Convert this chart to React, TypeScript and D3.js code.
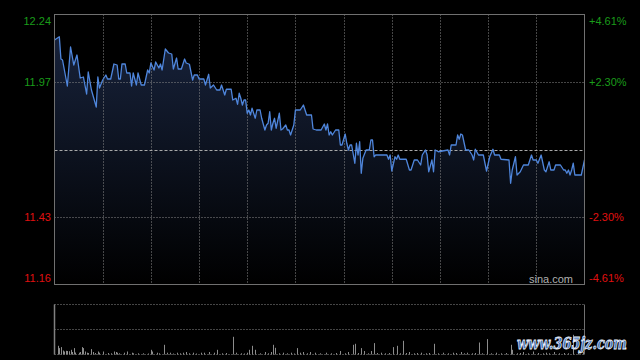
import React from "react";
import * as d3 from "d3";

// minute index (0..330, HK session) and price
const minutes = [0,3,4,5,8,10,12,14,16,18,20,21,23,26,27,28,30,32,33,35,37,39,40,41,42,44,45,47,48,49,51,52,54,56,58,59,60,62,63,65,66,67,69,71,73,74,76,77,79,81,82,84,86,87,89,90,93,94,96,97,99,101,103,104,106,107,110,111,113,114,115,116,117,118,119,120,121,122,123,124,125,126,128,129,131,132,133,134,135,136,137,138,140,141,142,144,145,146,147,149,150,153,155,156,157,160,161,163,166,168,169,170,171,172,173,175,177,178,179,181,182,183,184,185,187,188,189,190,191,192,194,196,197,198,199,200,207,208,209,210,212,213,214,215,219,221,222,224,226,228,229,231,232,233,235,236,237,239,245,246,247,250,251,252,253,254,256,258,260,261,262,264,267,269,271,273,274,277,278,283,284,285,287,288,290,292,295,297,298,300,301,303,305,306,308,309,311,312,315,317,318,319,320,321,322,323,324,325,328,330];
const prices = [12.138,12.151,12.062,12.058,11.954,12.11,12.038,12.078,11.986,11.99,11.922,12.01,11.938,11.87,11.99,11.946,11.978,11.998,11.982,11.982,12.042,12.038,11.982,11.982,12.042,12.042,12.006,12.006,11.954,12.006,11.958,12.006,11.958,11.958,12.018,12.006,12.046,12.018,12.05,12.026,12.042,12.018,12.102,12.086,12.082,12.022,12.066,12.022,12.022,12.062,12.046,12.041,11.978,11.998,11.998,11.982,11.982,11.958,12.001,11.946,11.958,11.938,11.938,11.958,11.918,11.941,11.941,11.898,11.905,11.881,11.925,11.905,11.878,11.898,11.898,11.845,11.858,11.838,11.865,11.845,11.825,11.858,11.858,11.825,11.778,11.798,11.805,11.851,11.778,11.805,11.825,11.785,11.845,11.778,11.782,11.798,11.778,11.778,11.758,11.798,11.858,11.858,11.878,11.858,11.838,11.838,11.782,11.778,11.778,11.802,11.778,11.802,11.758,11.771,11.758,11.778,11.778,11.718,11.718,11.762,11.725,11.698,11.718,11.718,11.645,11.725,11.678,11.731,11.605,11.665,11.698,11.698,11.738,11.738,11.671,11.678,11.678,11.661,11.678,11.614,11.671,11.661,11.678,11.661,11.661,11.618,11.618,11.658,11.658,11.638,11.678,11.698,11.678,11.611,11.658,11.611,11.698,11.691,11.698,11.678,11.718,11.718,11.758,11.741,11.762,11.758,11.698,11.698,11.678,11.658,11.701,11.678,11.678,11.614,11.671,11.701,11.678,11.678,11.661,11.658,11.565,11.618,11.671,11.598,11.611,11.638,11.638,11.678,11.658,11.658,11.645,11.678,11.618,11.611,11.651,11.618,11.618,11.638,11.638,11.618,11.618,11.605,11.618,11.598,11.618,11.645,11.598,11.598,11.598,11.658];

// volume bars: minute index and volume (arbitrary units)
const volMinutes = [2,3,4,5,6,7,8,9,10,11,12,13,15,16,17,18,19,20,21,23,24,25,27,28,30,33,35,37,38,39,40,43,45,48,49,52,55,58,60,61,64,65,68,70,72,74,76,78,80,82,84,86,88,91,93,96,99,101,104,107,111,113,116,118,120,121,123,125,128,131,133,135,136,137,140,142,145,147,149,151,153,155,157,159,162,165,169,172,175,178,181,183,186,187,189,191,193,195,197,199,201,203,206,208,211,213,215,217,219,221,224,226,228,231,233,236,239,242,245,248,250,253,255,257,260,262,264,266,269,272,275,278,281,284,285,288,290,292,295,298,301,304,306,308,311,314,317,320,323,326,329];
const volumes = [87,64,74,40,30,37,35,33,47,25,64,20,18,25,74,64,30,18,15,54,25,15,30,18,30,15,12,30,25,18,12,18,30,18,12,12,12,10,47,30,18,12,97,18,18,10,18,12,18,25,12,18,10,18,18,25,18,47,12,15,177,18,12,10,18,47,87,47,12,25,12,25,97,67,12,18,12,18,10,64,18,25,12,25,18,12,18,12,15,35,12,25,97,107,15,64,35,12,35,114,15,18,12,15,74,87,12,137,15,25,12,15,18,12,15,107,12,18,12,18,15,25,12,18,12,15,120,12,154,12,18,12,15,97,47,12,15,25,12,30,15,12,18,12,25,12,15,12,197,15,25];

const leftLabels = ["12.24", "11.97", "11.43", "11.16"];
const leftValues = [12.24, 11.97, 11.43, 11.16];
const rightLabels = ["+4.61%", "+2.30%", "-2.30%", "-4.61%"];
const prevClose = 11.70;

export default function App() {
  const L = 54.5, R = 584.5, T = 14.5, B = 284.5;
  const VT = 304.5, VB = 354.5;
  const x = d3.scaleLinear().domain([0, 330]).range([L, R]);
  const y = d3.scaleLinear().domain([11.16, 12.24]).range([B, T]);
  const yv = d3.scaleLinear().domain([0, 500]).range([VB, VT]);

  const pts = minutes.map((m, i) => [m, prices[i]] as [number, number]);
  const line = d3.line<[number, number]>().x(d => x(d[0])).y(d => y(d[1]));
  const area = d3.area<[number, number]>().x(d => x(d[0])).y0(B).y1(d => y(d[1]));

  const vlines = d3.range(1, 11).map(i => x(i * 30));
  const green = "#1a9c1a";
  const red = "#e01010";
  const labelY = (v: number) => {
    const c = Math.max(T + 6, Math.min(B - 6.5, y(v)));
    return c + 4;
  };

  return (
    <svg width={640} height={360} style={{ position: "fixed", left: 0, top: 0, background: "#000" }}
      fontFamily="'Liberation Sans', Arial, sans-serif">
      <rect x={0} y={0} width={640} height={360} fill="#000" />
      <defs>
        <linearGradient id="fillg" gradientUnits="userSpaceOnUse" x1={0} y1={30} x2={0} y2={B}>
          <stop offset="0" stopColor="#18233c" />
          <stop offset="1" stopColor="#000000" />
        </linearGradient>
      </defs>
      <path d={area(pts) || ""} fill="url(#fillg)" />
      {vlines.map((vx, i) => (
        <line key={"v" + i} x1={Math.round(vx) + 0.5} x2={Math.round(vx) + 0.5} y1={T} y2={B}
          stroke="#8a8a8a" strokeDasharray="1 2" />
      ))}
      {[11.97, 11.43].map((v, i) => (
        <line key={"h" + i} x1={L} x2={R} y1={Math.round(y(v)) + 0.5} y2={Math.round(y(v)) + 0.5}
          stroke="#8a8a8a" strokeDasharray="1 2" />
      ))}
      <line x1={L} x2={R} y1={Math.round(y(prevClose)) + 0.5} y2={Math.round(y(prevClose)) + 0.5}
        stroke="#a8a8a8" strokeDasharray="3 2" />
      <path d={line(pts) || ""} fill="none" stroke="#4f86dc" strokeWidth={1.3} strokeLinejoin="round" />
      <rect x={L} y={T} width={R - L} height={B - T} fill="none" stroke="#707070" />
      {leftLabels.map((t, i) => (
        <text key={"l" + i} x={51} y={labelY(leftValues[i])} textAnchor="end" fontSize={11}
          fill={i < 2 ? green : red}>{t}</text>
      ))}
      {rightLabels.map((t, i) => (
        <text key={"r" + i} x={589} y={labelY(leftValues[i])} textAnchor="start" fontSize={11}
          fill={i < 2 ? green : red}>{t}</text>
      ))}
      <text x={573} y={283} textAnchor="end" fontSize={11} fill="#b0b0b0">sina.com</text>

      {/* volume panel */}
      {[VT, 329.5, VB].map((vy, i) => (
        <line key={"vh" + i} x1={L} x2={R} y1={vy} y2={vy} stroke="#8a8a8a" strokeDasharray="1 2" />
      ))}
      <line x1={L} x2={L} y1={VT} y2={VB} stroke="#808080" strokeWidth={1.5} />
      <line x1={R} x2={R} y1={VT} y2={VB} stroke="#707070" />
      {volMinutes.map((m, i) => (
        <line key={"b" + i} x1={Math.round(x(m)) + 0.5} x2={Math.round(x(m)) + 0.5}
          y1={VB} y2={yv(volumes[i])} stroke="#8c8c8c" />
      ))}
      <text x={572} y={349} textAnchor="middle" fontSize={16} fontWeight="bold" fontStyle="italic"
        fontFamily="'DejaVu Serif', serif" fill="#3a6cb4" stroke="#e8eef8" strokeWidth={0.8}
        textLength={110} lengthAdjust="spacingAndGlyphs">www.365jz.com</text>
    </svg>
  );
}
